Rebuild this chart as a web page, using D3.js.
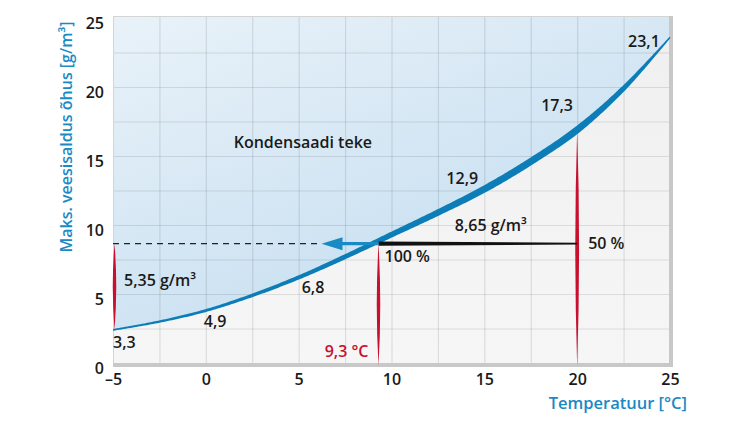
<!DOCTYPE html>
<html>
<head>
<meta charset="utf-8">
<script src="https://cdn.jsdelivr.net/npm/d3@7"></script>
<style>
body { margin: 0; background: #fff; }
text { font-family: "Open Sans", sans-serif; font-weight: 600; }
</style>
</head>
<body>
<svg id="chart" width="750" height="422"></svg>
<script>
// saturation curve as drawn (temperature °C -> max. water content g/m3)
const temps = [-5, -2.5, 0, 2.5, 5, 7.5, 10, 12.5, 15, 17.5, 20, 22.5, 25];
const maxWater = [2.4, 3.0, 3.8, 4.9, 6.2, 7.7, 9.3, 10.9, 12.6, 14.6, 16.9, 19.9, 23.6];

// values written next to the curve
const labelTemps = [-5, 0, 5, 15, 20, 25];
const labelTexts = ["3,3", "4,9", "6,8", "12,9", "17,3", "23,1"];

const xTicks = [-5, 0, 5, 10, 15, 20, 25];
const yTicks = [0, 5, 10, 15, 20, 25];

// the worked example
const outdoorTemp = -5;
const dewPoint = 9.3;
const roomTemp = 20;
const humidity = 8.65;

const width = 750;
const height = 422;
const plot = {left: 113, right: 670, top: 16, bottom: 363};
const blue = "#1a8ac4";
const curveBlue = "#0d7db8";
const red = "#c8102e";

const svg = d3.select("#chart").attr("viewBox", `0 0 ${width} ${height}`);
const defs = svg.append("defs");

const bgGrad = defs.append("linearGradient").attr("id", "bg").attr("x1", 0).attr("y1", 0).attr("x2", 0).attr("y2", 1);
bgGrad.append("stop").attr("offset", 0).attr("stop-color", "#efefef");
bgGrad.append("stop").attr("offset", 1).attr("stop-color", "#f6f6f6");

const fillGrad = defs.append("linearGradient").attr("id", "cond").attr("x1", 0).attr("y1", 0).attr("x2", 0.7).attr("y2", 1);
fillGrad.append("stop").attr("offset", 0).attr("stop-color", "#e9f2f9");
fillGrad.append("stop").attr("offset", 1).attr("stop-color", "#c3ddf0");

const x = d3.scaleLinear().domain([-5, 25]).range([plot.left, plot.right]);
const y = d3.scaleLinear().domain([0, 25]).range([plot.bottom, 18]);

const pts = temps.map((t, i) => [t, maxWater[i]]);
const waterAt = t => maxWater[temps.indexOf(t)];
const smooth = d3.curveCatmullRom.alpha(0.5);

// plot background
svg.append("rect")
    .attr("x", plot.left).attr("y", plot.top)
    .attr("width", plot.right - plot.left).attr("height", plot.bottom - plot.top)
    .attr("fill", "url(#bg)");

// condensation zone above the curve
const area = d3.area()
    .x(d => x(d[0]))
    .y0(plot.top)
    .y1(d => y(d[1]))
    .curve(smooth);
svg.append("path").attr("d", area(pts)).attr("fill", "url(#cond)");

// grid
svg.append("g")
    .attr("transform", `translate(0, ${plot.bottom})`)
    .call(d3.axisBottom(x).tickValues(d3.range(-2.5, 25, 2.5)).tickSize(-(plot.bottom - plot.top)).tickFormat(""))
    .call(g => g.select(".domain").remove())
    .call(g => g.selectAll("line").attr("stroke", "#000").attr("stroke-opacity", 0.1).attr("stroke-width", 1.2));
svg.append("g")
    .attr("transform", `translate(${plot.left}, 0)`)
    .call(d3.axisLeft(y).tickValues(d3.range(2.5, 25, 2.5)).tickSize(-(plot.right - plot.left)).tickFormat(""))
    .call(g => g.select(".domain").remove())
    .call(g => g.selectAll("line").attr("stroke", "#000").attr("stroke-opacity", 0.1).attr("stroke-width", 1.2));

// frame
svg.append("line").attr("x1", plot.left).attr("x2", plot.right).attr("y1", plot.top + 0.5).attr("y2", plot.top + 0.5)
    .attr("stroke", "#d4d4d4");
svg.append("line").attr("x1", plot.left + 0.5).attr("x2", plot.left + 0.5).attr("y1", plot.top).attr("y2", plot.bottom)
    .attr("stroke", "#d4d4d4");
svg.append("line").attr("x1", plot.right + 1).attr("x2", plot.right + 1).attr("y1", plot.top).attr("y2", plot.bottom + 4)
    .attr("stroke", "#c8c8c8").attr("stroke-width", 4);
svg.append("line").attr("x1", plot.left).attr("x2", plot.right + 3).attr("y1", plot.bottom + 2).attr("y2", plot.bottom + 2)
    .attr("stroke", "#c8c8c8").attr("stroke-width", 4);

// curve drawn as a band that swells in the middle
const bandWidth = d3.scaleLinear()
    .domain([-5, 0, 5, 10, 15, 20, 22.5, 25])
    .range([1.8, 2.8, 4, 5.5, 7, 7, 5, 1.5]);
const curveLine = d3.line().x(d => x(d[0])).y(d => y(d[1])).curve(smooth);
const guide = svg.append("path").attr("d", curveLine(pts)).attr("fill", "none");
const len = guide.node().getTotalLength();
const n = 300;
const samples = d3.range(n + 1).map(i => guide.node().getPointAtLength(len * i / n));
const sideA = [], sideB = [];
samples.forEach((p, i) => {
    const a = samples[Math.max(0, i - 1)], b = samples[Math.min(n, i + 1)];
    let dx = b.x - a.x, dy = b.y - a.y;
    const l = Math.hypot(dx, dy) || 1;
    dx /= l; dy /= l;
    const w = bandWidth(x.invert(p.x)) / 2;
    sideA.push([p.x - dy * w, p.y + dx * w]);
    sideB.push([p.x + dy * w, p.y - dx * w]);
});
guide.remove();

// spindle shaped red markers
function spindle(cx, y1, y2, w) {
    const m = (y1 + y2) / 2;
    return `M${cx},${y1} Q${cx + w},${m} ${cx},${y2} Q${cx - w},${m} ${cx},${y1} Z`;
}
const hy = y(humidity);

// dashed level line and arrow
const tipX = x(dewPoint) - 57;
svg.append("line")
    .attr("x1", plot.left).attr("x2", tipX).attr("y1", hy).attr("y2", hy)
    .attr("stroke", "#222").attr("stroke-width", 1.2).attr("stroke-dasharray", "6,5");

svg.append("path").attr("d", spindle(x(outdoorTemp) + 1.5, hy, y(waterAt(outdoorTemp)), 3.5)).attr("fill", red);
svg.append("path").attr("d", spindle(x(dewPoint), hy, plot.bottom + 3, 3.5)).attr("fill", red);
svg.append("path").attr("d", spindle(x(roomTemp), y(waterAt(roomTemp)), plot.bottom + 3, 3.8)).attr("fill", red);

svg.append("path").attr("d", d3.line()(sideA.concat(sideB.reverse())) + "Z").attr("fill", curveBlue);

// black line from 50 % to 100 %
svg.append("path")
    .attr("d", `M${x(dewPoint)},${hy - 2.2} L${x(roomTemp)},${hy - 0.8} L${x(roomTemp)},${hy + 0.8} L${x(dewPoint)},${hy + 2.2} Z`)
    .attr("fill", "#111");

// blue arrow
svg.append("line")
    .attr("x1", x(dewPoint)).attr("x2", tipX + 18).attr("y1", hy).attr("y2", hy)
    .attr("stroke", blue).attr("stroke-width", 3.2);
svg.append("path")
    .attr("d", `M${tipX},${hy} L${tipX + 21},${hy - 6.5} L${tipX + 21},${hy + 6.5} Z`)
    .attr("fill", blue);

// axes labels
const xAxis = svg.append("g")
    .attr("transform", `translate(0, ${plot.bottom})`)
    .call(d3.axisBottom(x).tickValues(xTicks).tickSize(0).tickPadding(11)
        .tickFormat(d => d < 0 ? "\u2013" + Math.abs(d) : d))
    .call(g => g.select(".domain").remove());
xAxis.attr("font-size", 16).attr("font-family", null);
xAxis.selectAll("text").attr("fill", "#1a1a1a");

const yAxis = svg.append("g")
    .attr("transform", `translate(${plot.left}, 0)`)
    .call(d3.axisLeft(y).tickValues(yTicks).tickSize(0).tickPadding(9))
    .call(g => g.select(".domain").remove());
yAxis.attr("font-size", 16).attr("font-family", null);
yAxis.selectAll("text").attr("fill", "#1a1a1a").attr("y", 5);

svg.append("text")
    .attr("x", 687).attr("y", 409)
    .attr("text-anchor", "end")
    .attr("fill", blue)
    .style("font-size", "16.5px")
    .text("Temperatuur [°C]");

svg.append("text")
    .attr("transform", "translate(72, 137) rotate(-90)")
    .attr("text-anchor", "middle")
    .attr("fill", blue)
    .style("font-size", "16px")
    .text("Maks. veesisaldus õhus [g/m³]");

// value labels beside the curve
const labelOffsets = [[0, 18], [-2, 16], [3, 16], [-38, -5], [-36, -19], [-42, 10]];
svg.append("g").selectAll("text")
    .data(labelTemps)
    .join("text")
    .attr("x", (d, i) => x(d) + labelOffsets[i][0])
    .attr("y", (d, i) => y(waterAt(d)) + labelOffsets[i][1])
    .attr("fill", "#1a1a1a")
    .style("font-size", "16px")
    .text((d, i) => labelTexts[i]);

function note(px, py, str, color, anchor) {
    svg.append("text")
        .attr("x", px).attr("y", py)
        .attr("fill", color || "#1a1a1a")
        .attr("text-anchor", anchor || "start")
        .style("font-size", "16px")
        .text(str);
}
note(x(1.5), y(15.6), "Kondensaadi teke");
note(x(outdoorTemp) + 11, (hy + y(waterAt(outdoorTemp))) / 2 - 1, "5,35 g/m³");
note((x(dewPoint) + x(roomTemp)) / 2 + 13, hy - 13, "8,65 g/m³", null, "middle");
note(x(dewPoint) + 6, hy + 18, "100 %");
note(x(roomTemp) + 11, hy + 5, "50 %");
note(x(dewPoint) - 10, plot.bottom - 6, "9,3 °C", red, "end");
</script>
</body>
</html>
